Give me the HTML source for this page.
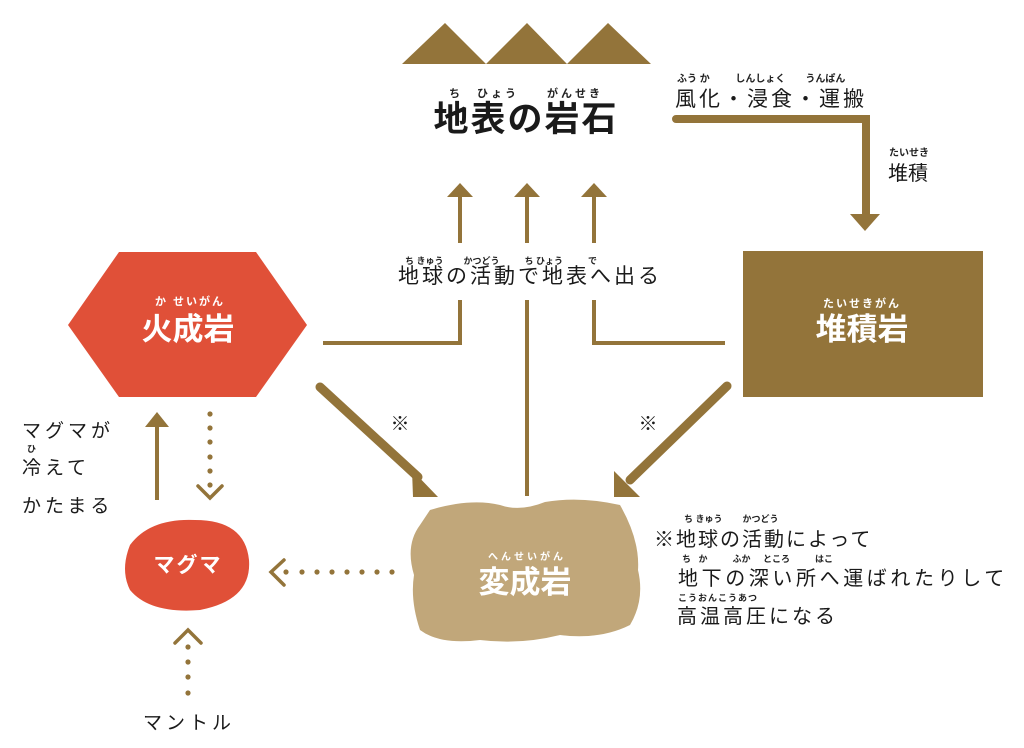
<!DOCTYPE html>
<html><head><meta charset="utf-8"><style>
body{margin:0;background:#fff}
svg{display:block}
text{font-family:"Liberation Sans","Noto Sans CJK JP",sans-serif}
</style></head><body>
<svg width="1024" height="748" viewBox="0 0 1024 748">
<polygon points="402,64 445,23 486,64 527,23 567,64 608,23 651,64" fill="#93743A"/>
<text x="526" y="97" font-size="11" font-weight="bold" fill="#222" text-anchor="middle" letter-spacing="3">ち　ひょう　　がんせき</text>
<text x="526" y="131" font-size="35" font-weight="bold" fill="#1a1a1a" text-anchor="middle" letter-spacing="2">地表の岩石</text>
<text x="677" y="82" font-size="10" font-weight="bold" fill="#222" xml:space="preserve">ふう か　　  しんしょく　　うんぱん</text>
<text x="675" y="106" font-size="21" fill="#1a1a1a" letter-spacing="3">風化・浸食・運搬</text>
<path d="M676,119 H866 V215" fill="none" stroke="#93743A" stroke-width="8" stroke-linecap="round"/>
<polygon points="850,214 880,214 865,231" fill="#93743A"/>
<text x="889" y="156" font-size="10" font-weight="bold" fill="#222">たいせき</text>
<text x="888" y="180" font-size="20" fill="#1a1a1a">堆積</text>
<rect x="743" y="251" width="240" height="146" fill="#93743A"/>
<text x="862" y="307" font-size="11" font-weight="bold" fill="#fff" text-anchor="middle" letter-spacing="2">たいせきがん</text>
<text x="862" y="340" font-size="31" font-weight="bold" fill="#fff" text-anchor="middle">堆積岩</text>
<polygon points="68,325 119,252 256,252 307,325 256,397 119,397" fill="#E05038"/>
<text x="190" y="305" font-size="11" font-weight="bold" fill="#fff" text-anchor="middle" letter-spacing="2">か せいがん</text>
<text x="188" y="340" font-size="31" font-weight="bold" fill="#fff" text-anchor="middle">火成岩</text>
<g fill="#93743A">
<polygon points="447,197 473,197 460,183"/>
<polygon points="514,197 540,197 527,183"/>
<polygon points="581,197 607,197 594,183"/>
</g>
<g stroke="#93743A" stroke-width="4" fill="none">
<line x1="460" y1="196" x2="460" y2="243"/>
<line x1="527" y1="196" x2="527" y2="243"/>
<line x1="594" y1="196" x2="594" y2="243"/>
<path d="M323,343 H460 V300"/>
<path d="M594,300 V343 H725"/>
<line x1="527" y1="300" x2="527" y2="496"/>
</g>
<text x="405" y="264" font-size="9" font-weight="bold" fill="#222" xml:space="preserve">ち きゅう        かつどう          ち ひょう          で</text>
<text x="398" y="283" font-size="21" fill="#1a1a1a" letter-spacing="3">地球の活動で地表へ出る</text>
<line x1="320" y1="387" x2="418" y2="477" stroke="#93743A" stroke-width="9" stroke-linecap="round"/>
<polygon points="412,470 438,497 413,497" fill="#93743A"/>
<line x1="727" y1="386" x2="630" y2="480" stroke="#93743A" stroke-width="9" stroke-linecap="round"/>
<polygon points="614,497 614,471 640,497" fill="#93743A"/>
<text x="400" y="430" font-size="19" fill="#1a1a1a" text-anchor="middle">※</text>
<text x="648" y="430" font-size="19" fill="#1a1a1a" text-anchor="middle">※</text>
<path d="M430,510 Q470,498 500,505 Q520,512 545,502 Q580,496 620,505 Q640,540 638,570 Q645,600 630,625 Q600,640 560,635 Q520,645 480,640 Q440,645 420,630 Q410,600 414,575 Q405,545 420,525 Z" fill="#C1A77A"/>
<text x="527" y="560" font-size="10" font-weight="bold" fill="#fff" text-anchor="middle" letter-spacing="3">へんせいがん</text>
<text x="525" y="593" font-size="31" font-weight="bold" fill="#fff" text-anchor="middle">変成岩</text>
<text x="684" y="522" font-size="9" font-weight="bold" fill="#222" xml:space="preserve">ち きゅう        かつどう</text>
<text x="654" y="546" font-size="20" fill="#1a1a1a" letter-spacing="2">※地球の活動によって</text>
<text x="682" y="562" font-size="9" font-weight="bold" fill="#222" xml:space="preserve">ち   か          ふか     ところ          はこ</text>
<text x="678" y="585" font-size="20" fill="#1a1a1a" letter-spacing="3.6">地下の深い所へ運ばれたりして</text>
<text x="678" y="601" font-size="9" font-weight="bold" fill="#222" letter-spacing="1">こうおんこうあつ</text>
<text x="677" y="623" font-size="20" fill="#1a1a1a" letter-spacing="3">高温高圧になる</text>
<path d="M130,545 Q150,518 195,520 Q245,520 249,560 Q252,600 200,610 Q150,614 130,590 Q120,570 130,545 Z" fill="#E05038"/>
<text x="188" y="572" font-size="21" font-weight="bold" fill="#fff" text-anchor="middle" letter-spacing="2">マグマ</text>
<text x="22" y="437" font-size="19" fill="#1a1a1a" letter-spacing="4">マグマが</text>
<text x="27" y="452" font-size="9" font-weight="bold" fill="#222">ひ</text>
<text x="22" y="474" font-size="19" fill="#1a1a1a" letter-spacing="4">冷えて</text>
<text x="22" y="512" font-size="19" fill="#1a1a1a" letter-spacing="4">かたまる</text>
<line x1="157" y1="500" x2="157" y2="426" stroke="#93743A" stroke-width="4"/>
<polygon points="145,427 169,427 157,412" fill="#93743A"/>
<g fill="#93743A">
<circle cx="210" cy="414" r="2.6"/><circle cx="210" cy="428" r="2.6"/><circle cx="210" cy="442" r="2.6"/><circle cx="210" cy="457" r="2.6"/><circle cx="210" cy="471" r="2.6"/><circle cx="210" cy="485" r="2.6"/>
<circle cx="392" cy="572" r="2.6"/><circle cx="377" cy="572" r="2.6"/><circle cx="362" cy="572" r="2.6"/><circle cx="347" cy="572" r="2.6"/><circle cx="332" cy="572" r="2.6"/><circle cx="317" cy="572" r="2.6"/><circle cx="302" cy="572" r="2.6"/><circle cx="286" cy="572" r="2.6"/>
<circle cx="188" cy="647" r="2.6"/><circle cx="188" cy="662" r="2.6"/><circle cx="188" cy="677" r="2.6"/><circle cx="188" cy="693" r="2.6"/>
</g>
<g fill="none" stroke="#93743A" stroke-width="3.5" stroke-linecap="round">
<polyline points="198,486 210,498 222,486"/>
<polyline points="284,560 271,572 284,585"/>
<polyline points="175,643 188,630 201,643"/>
</g>
<text x="143" y="729" font-size="19" fill="#1a1a1a" letter-spacing="4">マントル</text>
</svg>
</body></html>
